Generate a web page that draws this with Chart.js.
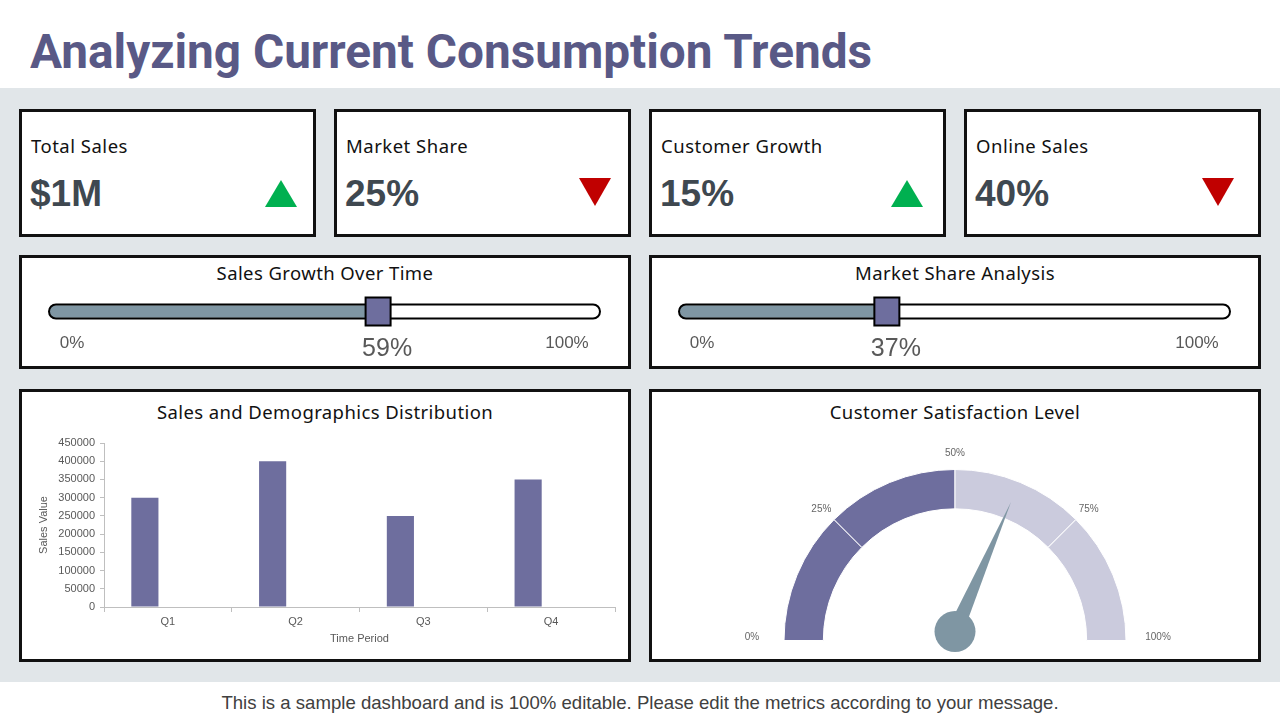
<!DOCTYPE html>
<html><head><meta charset="utf-8">
<script src="https://cdn.jsdelivr.net/npm/chart.js@4.4.0/dist/chart.umd.min.js"></script>
<style>
html,body{margin:0;padding:0;width:1280px;height:720px;overflow:hidden;background:#fff;font-family:Roboto,"Liberation Sans",sans-serif;}
#title{position:absolute;left:30px;top:28px;font-weight:bold;font-size:48px;line-height:48px;color:#595986;white-space:nowrap;transform-origin:0 0;display:inline-block;}
#band{position:absolute;left:0;top:88px;width:1280px;height:594px;background:#e1e6e9;}
.card{position:absolute;background:#fff;border:3px solid #111;box-sizing:border-box;}
.klabel{position:absolute;font-family:"Noto Sans";font-size:18.5px;letter-spacing:0.5px;line-height:18px;color:#111;white-space:nowrap;}
.kvalue{position:absolute;font-family:"Liberation Sans",Arial,sans-serif;font-weight:bold;font-size:37px;line-height:37px;color:#3f4850;white-space:nowrap;}
.up{position:absolute;width:0;height:0;border-left:16px solid transparent;border-right:16px solid transparent;border-bottom:27px solid #00b050;}
.down{position:absolute;width:0;height:0;border-left:16px solid transparent;border-right:16px solid transparent;border-top:28px solid #c00000;}
.ctitle{position:absolute;text-align:center;font-family:"Noto Sans";font-size:18.5px;letter-spacing:0.4px;line-height:20px;color:#111;white-space:nowrap;}
canvas{position:absolute;}
#footer{position:absolute;left:0;top:693px;width:1280px;text-align:center;font-family:"Liberation Sans",Arial,sans-serif;font-size:18.6px;line-height:20px;color:#404040;}
</style>
</head><body>
<span id="title">Analyzing Current Consumption Trends</span>
<div id="band"></div>
<div id="root"></div>
<div id="footer">This is a sample dashboard and is 100% editable. Please edit the metrics according to your message.</div>
<script>
// ---- data ----
const kpiLabels = ['Total Sales', 'Market Share', 'Customer Growth', 'Online Sales'];
const kpiValues = ['$1M', '25%', '15%', '40%'];
const kpiTrends = ['up', 'down', 'up', 'down'];
const sliderTitles = ['Sales Growth Over Time', 'Market Share Analysis'];
const sliderValues = [59, 37];
const sliderEnds = ['0%', '100%'];
const barTitle = 'Sales and Demographics Distribution';
const quarters = ['Q1', 'Q2', 'Q3', 'Q4'];
const salesValues = [300000, 400000, 250000, 350000];
const demographicsValues = [null, null, null, null];
const gaugeTitle = 'Customer Satisfaction Level';
const gaugeBands = [25, 25, 25, 25];
const gaugeTicks = [0, 25, 50, 75, 100];
const satisfactionValue = [63];

// ---- layout ----
const root = document.getElementById('root');
function el(tag, cls, style, text) {
  const e = document.createElement(tag);
  if (cls) e.className = cls;
  Object.assign(e.style, style || {});
  if (text !== undefined) e.textContent = text;
  root.appendChild(e);
  return e;
}
const kpiX = [19, 334, 649, 964];
const triX = [265, 579, 891, 1202];
kpiLabels.forEach((lab, i) => {
  el('div', 'card', {left: kpiX[i] + 'px', top: '109px', width: '297px', height: '128px'});
  el('div', 'klabel', {left: (kpiX[i] + 12) + 'px', top: '137px'}, lab);
  el('div', 'kvalue', {left: (kpiX[i] + 11) + 'px', top: '175px'}, kpiValues[i]);
  el('div', kpiTrends[i], {left: triX[i] + 'px', top: (kpiTrends[i] === 'up' ? 180 : 178) + 'px'});
});
const halfX = [19, 649];
sliderTitles.forEach((t, i) => {
  el('div', 'card', {left: halfX[i] + 'px', top: '255px', width: '612px', height: '114px'});
  el('div', 'ctitle', {left: halfX[i] + 'px', top: '263px', width: '612px'}, t);
});
[barTitle, gaugeTitle].forEach((t, i) => {
  el('div', 'card', {left: halfX[i] + 'px', top: '389px', width: '612px', height: '273px'});
  el('div', 'ctitle', {left: halfX[i] + 'px', top: '402px', width: '612px'}, t);
});
function mkCanvas(id, l, t, w, h) {
  const c = el('canvas', '', {left: l + 'px', top: t + 'px', width: w + 'px', height: h + 'px'});
  c.id = id; c.width = w; c.height = h;
  return c;
}

// ---- sliders ----
function pillPath(ctx, x, y, w, h) {
  const r = h / 2;
  ctx.beginPath();
  ctx.moveTo(x + r, y);
  ctx.lineTo(x + w - r, y);
  ctx.arc(x + w - r, y + r, r, -Math.PI / 2, Math.PI / 2);
  ctx.lineTo(x + r, y + h);
  ctx.arc(x + r, y + r, r, Math.PI / 2, Math.PI * 1.5);
  ctx.closePath();
}
const sliderPlugin = {
  id: 'slider',
  beforeDatasetsDraw(chart) {
    const ctx = chart.ctx, xs = chart.scales.x, ys = chart.scales.y;
    const x0 = xs.getPixelForValue(0), x1 = xs.getPixelForValue(100), yc = ys.getPixelForValue(0);
    ctx.save();
    pillPath(ctx, x0, yc - 7, x1 - x0, 14);
    ctx.fillStyle = '#ffffff';
    ctx.fill();
    ctx.restore();
  },
  afterDatasetsDraw(chart) {
    const ctx = chart.ctx, xs = chart.scales.x, ys = chart.scales.y;
    const v = chart.data.datasets[0].data[0];
    const x0 = xs.getPixelForValue(0), x1 = xs.getPixelForValue(100), yc = ys.getPixelForValue(0);
    const xv = xs.getPixelForValue(v) + 4;
    ctx.save();
    pillPath(ctx, x0, yc - 7, x1 - x0, 14);
    ctx.lineWidth = 2;
    ctx.strokeStyle = '#000';
    ctx.stroke();
    ctx.fillStyle = '#6e6e9e';
    ctx.fillRect(xv - 12.5, yc - 14, 25, 28);
    ctx.strokeRect(xv - 12.5, yc - 14, 25, 28);
    ctx.fillStyle = '#595959';
    ctx.textAlign = 'center';
    ctx.textBaseline = 'middle';
    ctx.font = '17px "Liberation Sans", Arial, sans-serif';
    ctx.fillText(sliderEnds[0], x0 + 23, yc + 32);
    ctx.fillText(sliderEnds[1], x1 - 33, yc + 32);
    ctx.font = '25px "Liberation Sans", Arial, sans-serif';
    ctx.fillText(v + '%', xv + 9, yc + 38);
    ctx.restore();
  }
};
function sliderChart(id, left, value) {
  const c = mkCanvas(id, left, 290, 590, 75);
  new Chart(c, {
    type: 'bar',
    data: {labels: ['value'], datasets: [{data: [value], backgroundColor: '#7f96a3', barThickness: 12,
      borderRadius: {topLeft: 6, bottomLeft: 6, topRight: 0, bottomRight: 0}, borderSkipped: false}]},
    options: {indexAxis: 'y', responsive: false, animation: false, events: [],
      layout: {padding: {left: 19, right: 20, top: 10, bottom: 42}},
      scales: {x: {display: false, min: 0, max: 100}, y: {display: false}},
      plugins: {legend: {display: false}, tooltip: {enabled: false}}},
    plugins: [sliderPlugin]
  });
}
sliderChart('s1', 30, sliderValues[0]);
sliderChart('s2', 660, sliderValues[1]);

// ---- bar chart ----
const tickFont = {family: '"Liberation Sans", Arial, sans-serif', size: 11};
const bc = mkCanvas('bar', 25, 431, 600, 225);
new Chart(bc, {
  type: 'bar',
  data: {labels: quarters, datasets: [
    {label: 'Sales', data: salesValues, backgroundColor: '#6e6e9e', categoryPercentage: 0.72, barPercentage: 0.59},
    {label: 'Demographics', data: demographicsValues, backgroundColor: '#cbcbdc', categoryPercentage: 0.72, barPercentage: 0.59}
  ]},
  options: {responsive: false, animation: false, events: [],
    layout: {padding: {left: 0, right: 10, top: 12, bottom: 0}},
    plugins: {legend: {display: false}, tooltip: {enabled: false}},
    scales: {
      x: {grid: {drawOnChartArea: false, tickLength: 5, color: '#bfbfbf'}, border: {color: '#bfbfbf'},
        ticks: {color: '#595959', font: tickFont, padding: 3},
        title: {display: true, text: 'Time Period', color: '#595959', font: tickFont, padding: {top: 0, bottom: 10}},
        afterFit(s) { s.height = 49; }},
      y: {min: 0, max: 450000, grid: {drawOnChartArea: false, tickLength: 4, color: '#bfbfbf'}, border: {color: '#bfbfbf'},
        ticks: {stepSize: 50000, color: '#595959', font: tickFont, padding: 5, callback: v => String(v)},
        title: {display: true, text: 'Sales Value', color: '#595959', font: tickFont, padding: {top: 12, bottom: 0}},
        afterFit(s) { s.width = 79; }}
    }}
});

// ---- gauge ----
const gaugePlugin = {
  id: 'gauge',
  afterDatasetsDraw(chart) {
    const ctx = chart.ctx;
    const arc = chart.getDatasetMeta(0).data[0];
    const cx = arc.x, cy = arc.y, outer = arc.outerRadius;
    ctx.save();
    ctx.fillStyle = '#666';
    ctx.font = '10px "Liberation Sans", Arial, sans-serif';
    ctx.textAlign = 'center';
    ctx.textBaseline = 'middle';
    gaugeTicks.forEach(t => {
      const a = Math.PI * (1 + t / 100);
      const side = (t === 0 || t === 100);
      const r = side ? outer + 32 : outer + 18;
      const dy = side ? -3 : 2;
      ctx.fillText(t + '%', cx + Math.cos(a) * r, cy + Math.sin(a) * r + dy);
    });
    const v = satisfactionValue[0];
    const a = Math.PI * (1 + v / 100);
    const px = cx, py = cy - 9;
    const len = outer - 30;
    const tx = px + Math.cos(a) * len, ty = py + Math.sin(a) * len;
    const nx = -Math.sin(a) * 8, ny = Math.cos(a) * 8;
    ctx.fillStyle = '#7f96a3';
    ctx.beginPath();
    ctx.moveTo(tx, ty);
    ctx.lineTo(px + nx, py + ny);
    ctx.lineTo(px - nx, py - ny);
    ctx.closePath();
    ctx.fill();
    ctx.beginPath();
    ctx.arc(px, py, 20.5, 0, Math.PI * 2);
    ctx.fill();
    ctx.restore();
  }
};
const gc = mkCanvas('gauge', 700, 430, 510, 230);
new Chart(gc, {
  type: 'doughnut',
  data: {labels: ['0-25%', '25-50%', '50-75%', '75-100%'], datasets: [{data: gaugeBands,
    backgroundColor: ['#6e6e9e', '#6e6e9e', '#cbcbdd', '#cbcbdd'], borderColor: '#ffffff', borderWidth: 1}]},
  options: {responsive: false, animation: false, events: [], rotation: -90, circumference: 180, cutout: '77%',
    layout: {padding: {left: 83, right: 83, top: 39, bottom: 19}},
    plugins: {legend: {display: false}, tooltip: {enabled: false}}},
  plugins: [gaugePlugin]
});

// fit title width
const t = document.getElementById('title');
const w = t.getBoundingClientRect().width;
t.style.transform = 'scaleX(' + (842 / w) + ')';
</script>
</body></html>
